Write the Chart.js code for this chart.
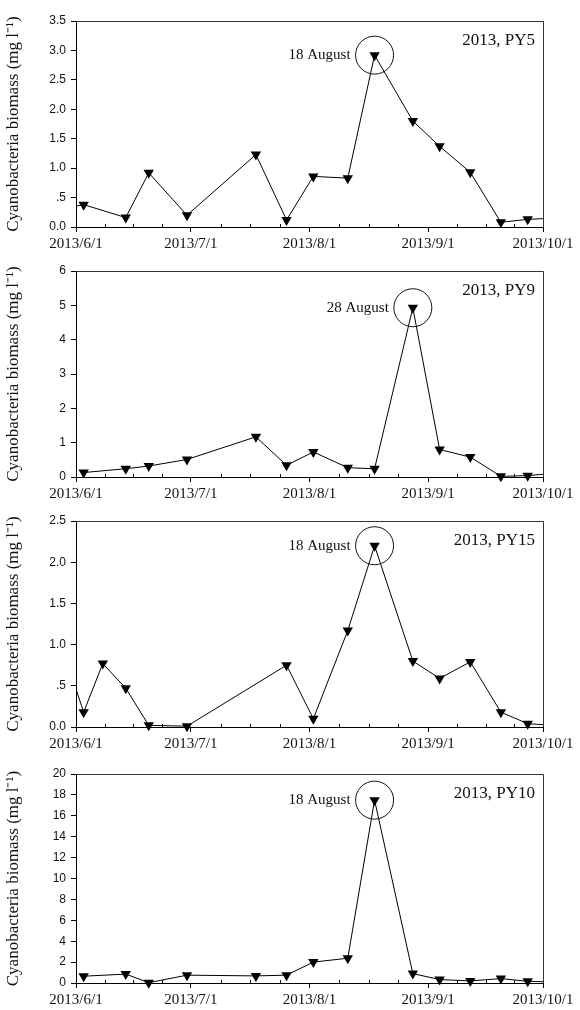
<!DOCTYPE html>
<html>
<head>
<meta charset="utf-8">
<script src="https://cdn.jsdelivr.net/npm/chart.js@4.4.0/dist/chart.umd.min.js"></script>
<style>
  body { margin: 0; background: #fff; width: 580px; height: 1010px; position: relative; overflow: hidden; }
  canvas { position: absolute; left: 0; }
</style>
</head>
<body>
<canvas id="c1" width="580" height="257" style="top:0px"></canvas>
<canvas id="c2" width="580" height="257" style="top:250px"></canvas>
<canvas id="c3" width="580" height="257" style="top:500px"></canvas>
<canvas id="c4" width="580" height="257" style="top:753px"></canvas>
<script>
// x axis: month ticks
const monthTicks = ['2013-06-01', '2013-07-01', '2013-08-01', '2013-09-01', '2013-10-01'];
const monthLabels = ['2013/6/1', '2013/7/1', '2013/8/1', '2013/9/1', '2013/10/1'];

// PY5
const datesPY5 = ['2013-05-27', '2013-06-03', '2013-06-14', '2013-06-20', '2013-06-30', '2013-07-18', '2013-07-26',
  '2013-08-02', '2013-08-11', '2013-08-18', '2013-08-28', '2013-09-04', '2013-09-12', '2013-09-20', '2013-09-27', '2013-10-04'];
const valuesPY5 = [0.30, 0.38, 0.16, 0.92, 0.20, 1.23, 0.12, 0.86, 0.83, 2.92, 1.80, 1.37, 0.93, 0.08, 0.13, 0.15];
const yTicksPY5 = [0, 0.5, 1, 1.5, 2, 2.5, 3, 3.5];
const yLabelsPY5 = ['0.0', '.5', '1.0', '1.5', '2.0', '2.5', '3.0', '3.5'];

// PY9
const datesPY9 = ['2013-06-03', '2013-06-14', '2013-06-20', '2013-06-30', '2013-07-18', '2013-07-26',
  '2013-08-02', '2013-08-11', '2013-08-18', '2013-08-28', '2013-09-04', '2013-09-12', '2013-09-20', '2013-09-27', '2013-10-04'];
const valuesPY9 = [0.13, 0.24, 0.32, 0.51, 1.17, 0.34, 0.73, 0.27, 0.24, 4.93, 0.80, 0.58, 0.02, 0.04, 0.11];
const yTicksPY9 = [0, 1, 2, 3, 4, 5, 6];
const yLabelsPY9 = ['0', '1', '2', '3', '4', '5', '6'];

// PY15
const datesPY15 = ['2013-05-29', '2013-06-03', '2013-06-08', '2013-06-14', '2013-06-20', '2013-06-30', '2013-07-26',
  '2013-08-02', '2013-08-11', '2013-08-18', '2013-08-28', '2013-09-04', '2013-09-12', '2013-09-20', '2013-09-27', '2013-10-04'];
const valuesPY15 = [0.88, 0.18, 0.77, 0.47, 0.02, 0.01, 0.75, 0.10, 1.17, 2.20, 0.80, 0.59, 0.79, 0.18, 0.04, 0.02];
const yTicksPY15 = [0, 0.5, 1, 1.5, 2, 2.5];
const yLabelsPY15 = ['0.0', '.5', '1.0', '1.5', '2.0', '2.5'];

// PY10
const datesPY10 = ['2013-06-03', '2013-06-14', '2013-06-20', '2013-06-30', '2013-07-18', '2013-07-26',
  '2013-08-02', '2013-08-11', '2013-08-18', '2013-08-28', '2013-09-04', '2013-09-12', '2013-09-20', '2013-09-27', '2013-10-04'];
const valuesPY10 = [0.65, 0.85, 0.03, 0.75, 0.68, 0.75, 2.0, 2.37, 17.5, 0.9, 0.33, 0.2, 0.42, 0.16, 0.10];
const yTicksPY10 = [0, 2, 4, 6, 8, 10, 12, 14, 16, 18, 20];
const yLabelsPY10 = yTicksPY10.map(String);

const panels = [
  { id: 'c1', dates: datesPY5, values: valuesPY5, yTicks: yTicksPY5, yLabels: yLabelsPY5, name: '2013, PY5', peak: '18 August', plotH: 206, axisH: 30 },
  { id: 'c2', dates: datesPY9, values: valuesPY9, yTicks: yTicksPY9, yLabels: yLabelsPY9, name: '2013, PY9', peak: '28 August', plotH: 206, axisH: 30 },
  { id: 'c3', dates: datesPY15, values: valuesPY15, yTicks: yTicksPY15, yLabels: yLabelsPY15, name: '2013, PY15', peak: '18 August', plotH: 206, axisH: 30 },
  { id: 'c4', dates: datesPY10, values: valuesPY10, yTicks: yTicksPY10, yLabels: yLabelsPY10, name: '2013, PY10', peak: '18 August', plotH: 209, axisH: 27 }
];

const START = Date.UTC(2013, 5, 1);
function dayOf(s) {
  const [y, m, d] = s.split('-').map(Number);
  return (Date.UTC(y, m - 1, d) - START) / 86400000;
}
const monthDays = monthTicks.map(dayOf);

const SERIF = '"Liberation Serif", "Times New Roman", serif';
const SANS = '"Liberation Sans", Arial, sans-serif';

// frame, minor ticks, circle and labels
const decor = {
  id: 'decor',
  afterDatasetsDraw(chart, args, opts) {
    const { ctx, chartArea: a, scales: { x, y } } = chart;
    ctx.save();
    ctx.strokeStyle = '#333';
    ctx.lineWidth = 1;
    ctx.beginPath();
    ctx.moveTo(a.left, a.top + 0.5);
    ctx.lineTo(a.right + 0.5, a.top + 0.5);
    ctx.lineTo(a.right + 0.5, a.bottom);
    ctx.stroke();

    // minor ticks pointing inward
    ctx.strokeStyle = '#000';
    ctx.beginPath();
    for (let i = 0; i < monthDays.length - 1; i++) {
      for (let k = 1; k < 4; k++) {
        const d = monthDays[i] + (monthDays[i + 1] - monthDays[i]) * k / 4;
        const px = Math.round(x.getPixelForValue(d)) + 0.5;
        ctx.moveTo(px, a.bottom);
        ctx.lineTo(px, a.bottom - 3);
      }
    }
    ctx.stroke();

    // circle round the peak
    const data = chart.data.datasets[0].data;
    let pk = data[0];
    data.forEach(p => { if (p.y > pk.y) pk = p; });
    const cx = x.getPixelForValue(pk.x);
    const cy = y.getPixelForValue(pk.y);
    ctx.beginPath();
    ctx.arc(cx, cy, 19, 0, Math.PI * 2);
    ctx.strokeStyle = '#111';
    ctx.stroke();

    ctx.fillStyle = '#111';
    ctx.font = '15px ' + SERIF;
    ctx.textAlign = 'right';
    ctx.textBaseline = 'middle';
    ctx.fillText(opts.peak, cx - 24, cy);

    ctx.font = '17px ' + SERIF;
    ctx.fillText(opts.name, a.right - 8, a.top + 20);
    ctx.restore();
  }
};

panels.forEach(p => {
  new Chart(document.getElementById(p.id), {
    type: 'line',
    data: {
      datasets: [{
        data: p.dates.map((d, i) => ({ x: dayOf(d), y: p.values[i] })),
        borderColor: '#000',
        borderWidth: 1,
        backgroundColor: '#000',
        pointStyle: 'triangle',
        rotation: 180,
        pointRadius: 6,
        pointBorderWidth: 0,
        pointBackgroundColor: '#000',
        tension: 0,
        clip: { left: 0, right: 0, top: 10, bottom: 10 }
      }]
    },
    options: {
      responsive: false,
      animation: false,
      layout: { padding: { top: 21, right: 37, left: 0, bottom: 0 } },
      plugins: {
        legend: { display: false },
        tooltip: { enabled: false },
        decor: { name: p.name, peak: p.peak }
      },
      scales: {
        x: {
          type: 'linear',
          min: 0,
          max: monthDays[monthDays.length - 1],
          afterBuildTicks: s => { s.ticks = monthDays.map(v => ({ value: v })); },
          afterFit: s => { s.height = p.axisH; },
          ticks: {
            callback: (v) => monthLabels[monthDays.indexOf(v)],
            color: '#111',
            font: { family: SERIF, size: 15 },
            padding: 3,
            maxRotation: 0,
            autoSkip: false
          },
          grid: { drawOnChartArea: false, tickLength: 5, color: '#000' },
          border: { display: true, color: '#000', width: 1 }
        },
        y: {
          min: p.yTicks[0],
          max: p.yTicks[p.yTicks.length - 1],
          afterBuildTicks: s => { s.ticks = p.yTicks.map(v => ({ value: v })); },
          afterFit: s => { s.width = 76; },
          ticks: {
            callback: (v) => p.yLabels[p.yTicks.indexOf(v)],
            color: '#111',
            font: { family: SANS, size: 12 },
            padding: 5
          },
          grid: { drawOnChartArea: false, tickLength: 5, color: '#000' },
          border: { display: true, color: '#000', width: 1 },
          title: {
            display: true,
            text: 'Cyanobacteria biomass (mg l\u207B\u00B9)',
            color: '#111',
            font: { family: SERIF, size: 17 },
            padding: { top: 3, bottom: 0 }
          }
        }
      }
    },
    plugins: [decor]
  });
});
</script>
</body>
</html>
